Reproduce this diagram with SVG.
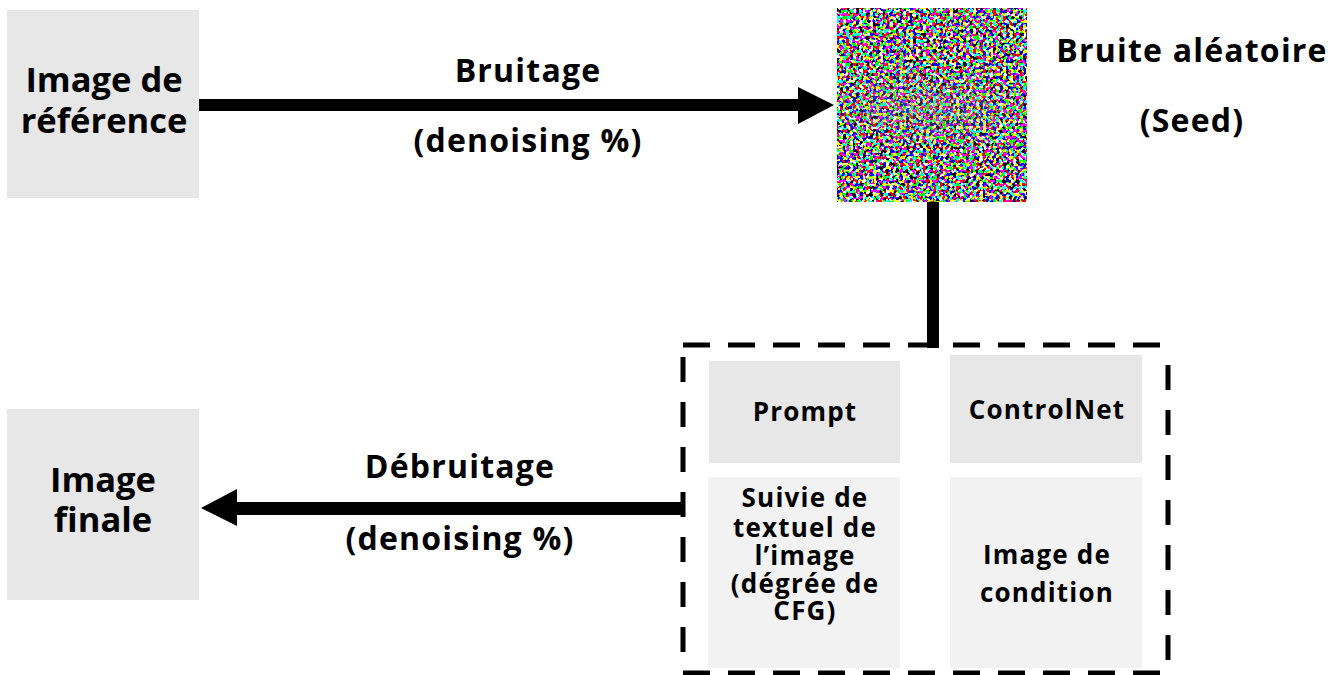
<svg xmlns="http://www.w3.org/2000/svg" width="1342" height="675" viewBox="0 0 1342 675">
  <style>
    text { font-family: "Open Sans", "Liberation Sans", sans-serif; font-weight: 700; fill: #000; text-anchor: middle; }
    .big { font-size: 34.5px; }
    .lbl { font-size: 32px; letter-spacing: 1.2px; }
    .sm { font-size: 26px; letter-spacing: 1.2px; }
    .box { fill: #e7e7e7; }
    .box2 { fill: #f2f2f2; }
    .dash { stroke: #000; stroke-width: 5; fill: none; }
    .dh { stroke-dasharray: 27 18; }
    .dv { stroke-dasharray: 25 20; }
  </style>
  <defs>
    <!-- colour noise: turbulence thresholded per channel -->
    <filter id="noise" filterUnits="userSpaceOnUse" x="837" y="8" width="190" height="194">
      <feTurbulence type="fractalNoise" baseFrequency="0.3" numOctaves="1" seed="7" result="t"/>
      <feComponentTransfer in="t" result="q">
        <feFuncR type="discrete" tableValues="0 1"/>
        <feFuncG type="discrete" tableValues="0 1"/>
        <feFuncB type="discrete" tableValues="0 1"/>
        <feFuncA type="discrete" tableValues="1 1"/>
      </feComponentTransfer>
    </filter>
    <filter id="soft" x="-50%" y="-50%" width="200%" height="200%">
      <feGaussianBlur stdDeviation="14"/>
    </filter>
  </defs>

  <!-- reference image node -->
  <g id="node-reference">
    <rect class="box" x="7" y="10" width="192" height="188"/>
    <text class="big" x="104" y="92">Image de</text>
    <text class="big" x="104" y="133">référence</text>
  </g>

  <!-- random noise (seed) node -->
  <g id="node-noise">
    <rect x="837" y="8" width="190" height="194" filter="url(#noise)"/>
    <ellipse cx="932" cy="108" rx="80" ry="28" fill="#9a9a9a" opacity="0.3" filter="url(#soft)"/>
    <text class="lbl" x="1192" y="62">Bruite aléatoire</text>
    <text class="lbl" x="1192" y="132">(Seed)</text>
  </g>

  <!-- final image node -->
  <g id="node-final">
    <rect class="box" x="7" y="409" width="192" height="191"/>
    <text class="big" x="103" y="492">Image</text>
    <text class="big" x="103" y="532">finale</text>
  </g>

  <!-- conditioning group -->
  <g id="node-conditioning">
    <line class="dash dh" x1="683" y1="345" x2="1170" y2="345"/>
    <line class="dash dh" x1="683" y1="673" x2="1170" y2="673"/>
    <line class="dash dv" x1="683" y1="357" x2="683" y2="665"/>
    <line class="dash dv" x1="1168" y1="365" x2="1168" y2="665"/>
  </g>

  <g id="node-prompt">
    <rect class="box" x="709" y="361" width="191" height="102"/>
    <text class="sm" x="805" y="421">Prompt</text>
  </g>

  <g id="node-controlnet">
    <rect class="box" x="950" y="355" width="192" height="108"/>
    <text class="sm" x="1047" y="419">ControlNet</text>
  </g>

  <g id="node-cfg">
    <rect class="box2" x="708" y="477" width="192" height="191"/>
    <text class="sm" x="805" y="507">Suivie de</text>
    <text class="sm" x="805" y="537">textuel de</text>
    <text class="sm" x="805" y="565">l’image</text>
    <text class="sm" x="805" y="593">(dégrée de</text>
    <text class="sm" x="805" y="620">CFG)</text>
  </g>

  <g id="node-condition-image">
    <rect class="box2" x="950" y="477" width="192" height="191"/>
    <text class="sm" x="1047" y="564">Image de</text>
    <text class="sm" x="1047" y="602">condition</text>
  </g>

  <!-- connectors -->
  <g id="connectors" fill="#000">
    <rect x="199" y="99" width="600" height="12"/>
    <polygon points="798,87 834,105 798,124"/>
    <rect x="927" y="202" width="12" height="146"/>
    <rect x="236" y="502" width="447" height="13"/>
    <polygon points="237,489 201,508 237,526"/>
    <text class="lbl" x="528" y="82">Bruitage</text>
    <text class="lbl" x="528" y="152">(denoising %)</text>
    <text class="lbl" x="460" y="478">Débruitage</text>
    <text class="lbl" x="460" y="550">(denoising %)</text>
  </g>
</svg>
